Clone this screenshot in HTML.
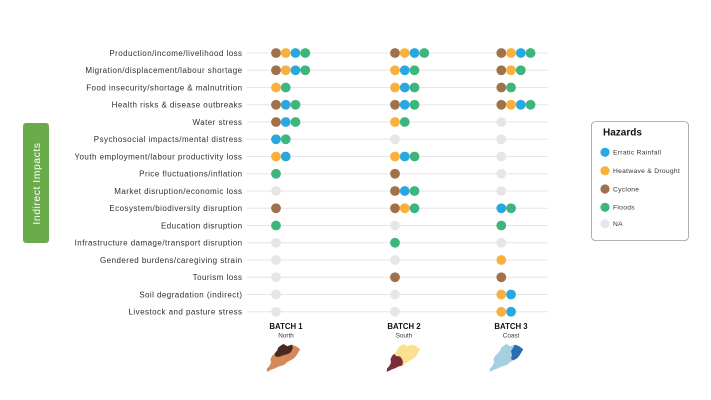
<!DOCTYPE html>
<html><head><meta charset="utf-8"><style>
html,body{margin:0;padding:0;background:#fff;}
svg{display:block;}
text{font-family:"Liberation Sans",sans-serif;}
.e{fill:#29a8e0}.h{fill:#f9b03c}.c{fill:#a0714a}.f{fill:#3db67c}.n{fill:#e6e6e6}
.lab{font-size:8px;fill:#2e2e2e;text-anchor:end;letter-spacing:0.45px}
.ln{stroke:#e6e6e6;stroke-width:1}
.lg{font-size:6.7px;fill:#333;letter-spacing:0.3px}
</style></head><body>
<svg width="711" height="400" viewBox="0 0 711 400" xmlns="http://www.w3.org/2000/svg">
<rect width="711" height="400" fill="#fff"/>
<rect x="23" y="123" width="26" height="120" rx="3" fill="#6aab4a"/>
<text transform="translate(40,183.5) rotate(-90)" text-anchor="middle" font-size="10.5" letter-spacing="0.5" fill="#fff">Indirect Impacts</text>

<g>
<line class="ln" x1="247" y1="53" x2="548" y2="53"/>
<line class="ln" x1="247" y1="70.25" x2="548" y2="70.25"/>
<line class="ln" x1="247" y1="87.5" x2="548" y2="87.5"/>
<line class="ln" x1="247" y1="104.75" x2="548" y2="104.75"/>
<line class="ln" x1="247" y1="122" x2="548" y2="122"/>
<line class="ln" x1="247" y1="139.25" x2="548" y2="139.25"/>
<line class="ln" x1="247" y1="156.5" x2="548" y2="156.5"/>
<line class="ln" x1="247" y1="173.75" x2="548" y2="173.75"/>
<line class="ln" x1="247" y1="191" x2="548" y2="191"/>
<line class="ln" x1="247" y1="208.25" x2="548" y2="208.25"/>
<line class="ln" x1="247" y1="225.5" x2="548" y2="225.5"/>
<line class="ln" x1="247" y1="242.75" x2="548" y2="242.75"/>
<line class="ln" x1="247" y1="260" x2="548" y2="260"/>
<line class="ln" x1="247" y1="277.25" x2="548" y2="277.25"/>
<line class="ln" x1="247" y1="294.5" x2="548" y2="294.5"/>
<line class="ln" x1="247" y1="311.75" x2="548" y2="311.75"/>
</g>

<g>
<text class="lab" x="242.5" y="55.8">Production/income/livelihood loss</text>
<text class="lab" x="242.5" y="73.05">Migration/displacement/labour shortage</text>
<text class="lab" x="242.5" y="90.3">Food insecurity/shortage &amp; malnutrition</text>
<text class="lab" x="242.5" y="107.55">Health risks &amp; disease outbreaks</text>
<text class="lab" x="242.5" y="124.8">Water stress</text>
<text class="lab" x="242.5" y="142.05">Psychosocial impacts/mental distress</text>
<text class="lab" x="242.5" y="159.3">Youth employment/labour productivity loss</text>
<text class="lab" x="242.5" y="176.55">Price fluctuations/inflation</text>
<text class="lab" x="242.5" y="193.8">Market disruption/economic loss</text>
<text class="lab" x="242.5" y="211.05">Ecosystem/biodiversity disruption</text>
<text class="lab" x="242.5" y="228.3">Education disruption</text>
<text class="lab" x="242.5" y="245.55">Infrastructure damage/transport disruption</text>
<text class="lab" x="242.5" y="262.8">Gendered burdens/caregiving strain</text>
<text class="lab" x="242.5" y="280.05">Tourism loss</text>
<text class="lab" x="242.5" y="297.3">Soil degradation (indirect)</text>
<text class="lab" x="242.5" y="314.55">Livestock and pasture stress</text>
</g>

<g>
<circle class="c" cx="276" cy="53" r="4.9"/><circle class="h" cx="285.75" cy="53" r="4.9"/><circle class="e" cx="295.5" cy="53" r="4.9"/><circle class="f" cx="305.25" cy="53" r="4.9"/>
<circle class="c" cx="395" cy="53" r="4.9"/><circle class="h" cx="404.75" cy="53" r="4.9"/><circle class="e" cx="414.5" cy="53" r="4.9"/><circle class="f" cx="424.25" cy="53" r="4.9"/>
<circle class="c" cx="501.3" cy="53" r="4.9"/><circle class="h" cx="511.05" cy="53" r="4.9"/><circle class="e" cx="520.8" cy="53" r="4.9"/><circle class="f" cx="530.55" cy="53" r="4.9"/>

<circle class="c" cx="276" cy="70.25" r="4.9"/><circle class="h" cx="285.75" cy="70.25" r="4.9"/><circle class="e" cx="295.5" cy="70.25" r="4.9"/><circle class="f" cx="305.25" cy="70.25" r="4.9"/>
<circle class="h" cx="395" cy="70.25" r="4.9"/><circle class="e" cx="404.75" cy="70.25" r="4.9"/><circle class="f" cx="414.5" cy="70.25" r="4.9"/>
<circle class="c" cx="501.3" cy="70.25" r="4.9"/><circle class="h" cx="511.05" cy="70.25" r="4.9"/><circle class="f" cx="520.8" cy="70.25" r="4.9"/>

<circle class="h" cx="276" cy="87.5" r="4.9"/><circle class="f" cx="285.75" cy="87.5" r="4.9"/>
<circle class="h" cx="395" cy="87.5" r="4.9"/><circle class="e" cx="404.75" cy="87.5" r="4.9"/><circle class="f" cx="414.5" cy="87.5" r="4.9"/>
<circle class="c" cx="501.3" cy="87.5" r="4.9"/><circle class="f" cx="511.05" cy="87.5" r="4.9"/>

<circle class="c" cx="276" cy="104.75" r="4.9"/><circle class="e" cx="285.75" cy="104.75" r="4.9"/><circle class="f" cx="295.5" cy="104.75" r="4.9"/>
<circle class="c" cx="395" cy="104.75" r="4.9"/><circle class="e" cx="404.75" cy="104.75" r="4.9"/><circle class="f" cx="414.5" cy="104.75" r="4.9"/>
<circle class="c" cx="501.3" cy="104.75" r="4.9"/><circle class="h" cx="511.05" cy="104.75" r="4.9"/><circle class="e" cx="520.8" cy="104.75" r="4.9"/><circle class="f" cx="530.55" cy="104.75" r="4.9"/>

<circle class="c" cx="276" cy="122" r="4.9"/><circle class="e" cx="285.75" cy="122" r="4.9"/><circle class="f" cx="295.5" cy="122" r="4.9"/>
<circle class="h" cx="395" cy="122" r="4.9"/><circle class="f" cx="404.75" cy="122" r="4.9"/>
<circle class="n" cx="501.3" cy="122" r="4.9"/>

<circle class="e" cx="276" cy="139.25" r="4.9"/><circle class="f" cx="285.75" cy="139.25" r="4.9"/>
<circle class="n" cx="395" cy="139.25" r="4.9"/>
<circle class="n" cx="501.3" cy="139.25" r="4.9"/>

<circle class="h" cx="276" cy="156.5" r="4.9"/><circle class="e" cx="285.75" cy="156.5" r="4.9"/>
<circle class="h" cx="395" cy="156.5" r="4.9"/><circle class="e" cx="404.75" cy="156.5" r="4.9"/><circle class="f" cx="414.5" cy="156.5" r="4.9"/>
<circle class="n" cx="501.3" cy="156.5" r="4.9"/>

<circle class="f" cx="276" cy="173.75" r="4.9"/>
<circle class="c" cx="395" cy="173.75" r="4.9"/>
<circle class="n" cx="501.3" cy="173.75" r="4.9"/>

<circle class="n" cx="276" cy="191" r="4.9"/>
<circle class="c" cx="395" cy="191" r="4.9"/><circle class="e" cx="404.75" cy="191" r="4.9"/><circle class="f" cx="414.5" cy="191" r="4.9"/>
<circle class="n" cx="501.3" cy="191" r="4.9"/>

<circle class="c" cx="276" cy="208.25" r="4.9"/>
<circle class="c" cx="395" cy="208.25" r="4.9"/><circle class="h" cx="404.75" cy="208.25" r="4.9"/><circle class="f" cx="414.5" cy="208.25" r="4.9"/>
<circle class="e" cx="501.3" cy="208.25" r="4.9"/><circle class="f" cx="511.05" cy="208.25" r="4.9"/>

<circle class="f" cx="276" cy="225.5" r="4.9"/>
<circle class="n" cx="395" cy="225.5" r="4.9"/>
<circle class="f" cx="501.3" cy="225.5" r="4.9"/>

<circle class="n" cx="276" cy="242.75" r="4.9"/>
<circle class="f" cx="395" cy="242.75" r="4.9"/>
<circle class="n" cx="501.3" cy="242.75" r="4.9"/>

<circle class="n" cx="276" cy="260" r="4.9"/>
<circle class="n" cx="395" cy="260" r="4.9"/>
<circle class="h" cx="501.3" cy="260" r="4.9"/>

<circle class="n" cx="276" cy="277.25" r="4.9"/>
<circle class="c" cx="395" cy="277.25" r="4.9"/>
<circle class="c" cx="501.3" cy="277.25" r="4.9"/>

<circle class="n" cx="276" cy="294.5" r="4.9"/>
<circle class="n" cx="395" cy="294.5" r="4.9"/>
<circle class="h" cx="501.3" cy="294.5" r="4.9"/><circle class="e" cx="511.05" cy="294.5" r="4.9"/>

<circle class="n" cx="276" cy="311.75" r="4.9"/>
<circle class="n" cx="395" cy="311.75" r="4.9"/>
<circle class="h" cx="501.3" cy="311.75" r="4.9"/><circle class="e" cx="511.05" cy="311.75" r="4.9"/>
</g>

<rect x="591.5" y="121.5" width="97" height="119" rx="4" fill="#fff" stroke="#9a9a9a" stroke-width="0.8"/>
<text x="603" y="135.5" font-size="10" font-weight="bold" fill="#111">Hazards</text>
<circle class="e" cx="605" cy="152.3" r="4.6"/><text class="lg" x="613" y="154.7">Erratic Rainfall</text>
<circle class="h" cx="605" cy="170.7" r="4.6"/><text class="lg" x="613" y="173.1">Heatwave &amp; Drought</text>
<circle class="c" cx="605" cy="189" r="4.6"/><text class="lg" x="613" y="191.4">Cyclone</text>
<circle class="f" cx="605" cy="207.3" r="4.6"/><text class="lg" x="613" y="209.7">Floods</text>
<circle class="n" cx="605" cy="223.7" r="4.6"/><text class="lg" x="613" y="226.1">NA</text>

<text x="286" y="329" font-size="7.8" font-weight="bold" text-anchor="middle" fill="#111">BATCH 1</text>
<text x="286" y="337.5" font-size="6.3" text-anchor="middle" fill="#333">North</text>
<text x="404" y="329" font-size="7.8" font-weight="bold" text-anchor="middle" fill="#111">BATCH 2</text>
<text x="404" y="337.5" font-size="6.3" text-anchor="middle" fill="#333">South</text>
<text x="511" y="329" font-size="7.8" font-weight="bold" text-anchor="middle" fill="#111">BATCH 3</text>
<text x="511" y="337.5" font-size="6.3" text-anchor="middle" fill="#333">Coast</text>

<g transform="translate(266,344)">
<polygon points="14.6,1.7 17.4,0 21.3,2.3 25.8,0.6 30.2,2.3 34.2,5.2 32.5,8.1 30.8,11 28.6,13.9 24.6,16.2 21.3,18 19,20.3 16.2,21.5 12.3,22.6 9,24.4 5.6,25.5 2.2,27.3 0.6,27.8 1.1,24.4 3.4,22 5,18.6 4.5,15.1 6.2,11.6 8.4,9.9 11.2,6.4 12.3,3.5" fill="#d4895b"/>
<polygon points="12.3,3.5 14.6,1.7 17.4,0 21.3,2.3 25.8,0.6 27,4 25,8 22,10 18,11 14,12.5 10,13 8.4,9.9 11.2,6.4" fill="#4a2a1e"/>
</g>
<g transform="translate(386,344)">
<polygon points="14.6,1.7 17.4,0 21.3,2.3 25.8,0.6 30.2,2.3 34.2,5.2 32.5,8.1 30.8,11 28.6,13.9 24.6,16.2 21.3,18 19,20.3 16.2,21.5 12.3,22.6 9,24.4 5.6,25.5 2.2,27.3 0.6,27.8 1.1,24.4 3.4,22 5,18.6 4.5,15.1 6.2,11.6 8.4,9.9 11.2,6.4 12.3,3.5" fill="#fce08f"/>
<polygon points="0.6,27.8 1.1,24.4 3.4,22 5,18.6 4.5,15.1 6.2,11.6 8.4,9.9 10,12 14,12.5 16,15 17,18 16.2,21.5 12.3,22.6 9,24.4 5.6,25.5 2.2,27.3" fill="#7b2d3b"/>
</g>
<g transform="translate(489,344)">
<polygon points="14.6,1.7 17.4,0 21.3,2.3 25.8,0.6 30.2,2.3 34.2,5.2 32.5,8.1 30.8,11 28.6,13.9 24.6,16.2 21.3,18 19,20.3 16.2,21.5 12.3,22.6 9,24.4 5.6,25.5 2.2,27.3 0.6,27.8 1.1,24.4 3.4,22 5,18.6 4.5,15.1 6.2,11.6 8.4,9.9 11.2,6.4 12.3,3.5" fill="#a6cfe0"/>
<polygon points="25.8,0.6 30.2,2.3 34.2,5.2 32.5,8.1 30.8,11 28.6,13.9 24.6,16.2 22,15 23,11 22,7 24,4" fill="#2a6db0"/>
</g>
</svg>
</body></html>
